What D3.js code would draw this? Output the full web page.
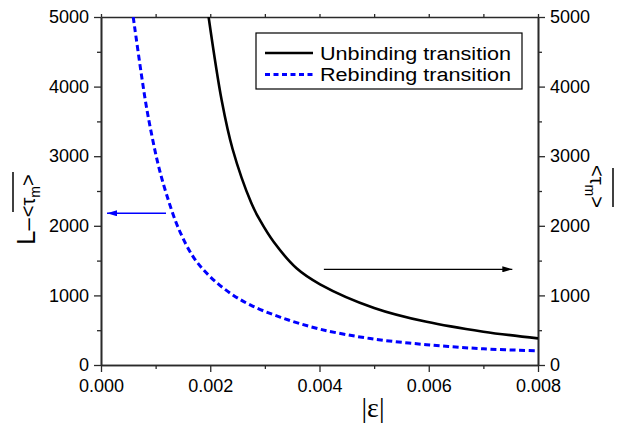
<!DOCTYPE html>
<html>
<head>
<meta charset="utf-8">
<script src="https://cdn.jsdelivr.net/npm/d3@7"></script>
<style>
  body { margin: 0; background: #fff; }
  svg { display: block; }
  text { font-family: "Liberation Sans", Arial, sans-serif; }
</style>
</head>
<body>
<svg id="chart" width="624" height="423"></svg>
<script>
// unbinding transition (solid black)
const epsUnbind = [0.00197, 0.00221, 0.00241, 0.00275, 0.00291, 0.00316, 0.00358, 0.00401, 0.005, 0.00596, 0.007, 0.008];
const tauUnbind = [5000, 3800, 3100, 2330, 2080, 1770, 1390, 1160, 820, 620, 479, 382];
// rebinding transition (dashed blue)
const epsRebind = [0.00059, 0.00081, 0.00093, 0.00105, 0.0012, 0.00142, 0.0017, 0.00201, 0.00237, 0.00274, 0.00329, 0.00401, 0.00493, 0.00596, 0.007, 0.008];
const tauRebind = [5000, 3810, 3300, 2870, 2450, 1960, 1540, 1260, 1030, 860, 685, 515, 380, 292, 233, 204];

const xTicks = [0, 0.002, 0.004, 0.006, 0.008];
const xMinor = [0.001, 0.003, 0.005, 0.007];
const yTicks = [0, 1000, 2000, 3000, 4000, 5000];
const yMinor = [500, 1500, 2500, 3500, 4500];
const legendLabels = ['Unbinding transition', 'Rebinding transition'];

const margin = { top: 17, right: 86, bottom: 58, left: 101 };
const W = 624, H = 423;
const w = W - margin.left - margin.right;
const h = H - margin.top - margin.bottom;
const axisColor = '#2a2a2a';

const svg = d3.select('#chart');
const g = svg.append('g').attr('transform', `translate(${margin.left},${margin.top})`);

const x = d3.scaleLinear().domain([0, 0.008]).range([0, w]);
const y = d3.scaleLinear().domain([0, 5000]).range([h, 0]);

function styleAxis(sel) {
  sel.select('.domain').attr('stroke', axisColor).attr('stroke-width', 1.6);
  sel.selectAll('.tick line').attr('stroke', axisColor).attr('stroke-width', 1.3);
  sel.selectAll('.tick text').attr('fill', '#000').style('font-size', '18px');
}

// bottom axis
g.append('g').attr('transform', `translate(0,${h})`)
  .call(d3.axisBottom(x).tickValues(xTicks).tickFormat(d3.format('.3f')).tickSize(7).tickPadding(7).tickSizeOuter(0))
  .call(styleAxis);
g.append('g').attr('transform', `translate(0,${h})`)
  .call(d3.axisBottom(x).tickValues(xMinor).tickFormat('').tickSize(4).tickSizeOuter(0))
  .call(styleAxis);
// top axis
g.append('g')
  .call(d3.axisTop(x).tickValues(xTicks.concat(xMinor)).tickFormat('').tickSize(3).tickSizeOuter(0))
  .call(styleAxis);

// left axis
g.append('g')
  .call(d3.axisLeft(y).tickValues(yTicks).tickFormat(d3.format('d')).tickSize(7).tickPadding(5).tickSizeOuter(0))
  .call(styleAxis);
g.append('g')
  .call(d3.axisLeft(y).tickValues(yMinor).tickFormat('').tickSize(4).tickSizeOuter(0))
  .call(styleAxis);
// right axis
g.append('g').attr('transform', `translate(${w},0)`)
  .call(d3.axisRight(y).tickValues(yTicks).tickFormat(d3.format('d')).tickSize(7).tickPadding(5).tickSizeOuter(0))
  .call(styleAxis);
g.append('g').attr('transform', `translate(${w},0)`)
  .call(d3.axisRight(y).tickValues(yMinor).tickFormat('').tickSize(4).tickSizeOuter(0))
  .call(styleAxis);

// curves
const line = d3.line().x(d => x(d[0])).y(d => y(d[1])).curve(d3.curveCatmullRom.alpha(0.5));
g.append('clipPath').attr('id', 'clip').append('rect').attr('width', w).attr('height', h);

g.append('path')
  .datum(d3.zip(epsRebind, tauRebind))
  .attr('clip-path', 'url(#clip)')
  .attr('fill', 'none')
  .attr('stroke', '#0000ff')
  .attr('stroke-width', 3)
  .attr('stroke-dasharray', '6,3.5')
  .attr('d', line);

g.append('path')
  .datum(d3.zip(epsUnbind, tauUnbind))
  .attr('clip-path', 'url(#clip)')
  .attr('fill', 'none')
  .attr('stroke', '#000')
  .attr('stroke-width', 2.6)
  .attr('d', line);

// arrows pointing to the axes
const defs = svg.append('defs');
[['arrBlue', '#0000ff'], ['arrBlack', '#000']].forEach(([id, c]) => {
  defs.append('marker').attr('id', id)
    .attr('viewBox', '0 0 10 6').attr('refX', 10).attr('refY', 3)
    .attr('markerWidth', 10).attr('markerHeight', 6).attr('markerUnits', 'userSpaceOnUse')
    .attr('orient', 'auto')
    .append('path').attr('d', 'M0,0L10,3L0,6Z').attr('fill', c);
});
g.append('line')
  .attr('x1', x(0.00119)).attr('x2', x(0.00011))
  .attr('y1', y(2180)).attr('y2', y(2180))
  .attr('stroke', '#0000ff').attr('stroke-width', 1.3)
  .attr('marker-end', 'url(#arrBlue)');
g.append('line')
  .attr('x1', x(0.00408)).attr('x2', x(0.00753))
  .attr('y1', y(1375)).attr('y2', y(1375))
  .attr('stroke', '#000').attr('stroke-width', 1.3)
  .attr('marker-end', 'url(#arrBlack)');

// legend
const lg = svg.append('g').attr('transform', 'translate(256,33)');
lg.append('rect').attr('width', 266).attr('height', 56)
  .attr('fill', '#fff').attr('stroke', '#000').attr('stroke-width', 1.2);
const rows = [{ c: '#000', dash: null, sw: 2.6 }, { c: '#0000ff', dash: '5,3.5', sw: 3 }];
rows.forEach((r, i) => {
  const yy = 20 + i * 21.5;
  lg.append('line').attr('x1', 9).attr('x2', 57).attr('y1', yy).attr('y2', yy)
    .attr('stroke', r.c).attr('stroke-width', r.sw).attr('stroke-dasharray', r.dash);
  lg.append('text').attr('x', 64).attr('y', yy + 6.5)
    .attr('textLength', 191).attr('lengthAdjust', 'spacingAndGlyphs')
    .style('font-size', '18px').text(legendLabels[i]);
});

// left axis title: L – <τm> with overline
const yl = svg.append('g').attr('transform', 'translate(35,245) rotate(-90)');
const ylt = yl.append('text').attr('x', 0).attr('y', 0);
ylt.append('tspan').style('font-size', '26px').text('L');
ylt.append('tspan').style('font-size', '22px').text('–');
ylt.append('tspan').style('font-size', '20px').attr('dx', 1).text('<τ');
ylt.append('tspan').style('font-size', '14px').attr('dy', 5).text('m');
ylt.append('tspan').style('font-size', '20px').attr('dy', -5).text('>');
yl.append('line').attr('x1', 33).attr('x2', 73).attr('y1', -22).attr('y2', -22)
  .attr('stroke', '#000').attr('stroke-width', 1.5);

// right axis title: <τm> with overline
const yr = svg.append('g').attr('transform', 'translate(590,165) rotate(90)');
const yrt = yr.append('text').attr('x', 0).attr('y', 0);
yrt.append('tspan').style('font-size', '20px').text('<τ');
yrt.append('tspan').style('font-size', '14px').attr('dy', 5).text('m');
yrt.append('tspan').style('font-size', '20px').attr('dy', -5).text('>');
yr.append('line').attr('x1', 3).attr('x2', 42).attr('y1', -23).attr('y2', -23)
  .attr('stroke', '#000').attr('stroke-width', 1.5);

// x axis title
svg.append('text')
  .attr('x', 373).attr('y', 417)
  .attr('text-anchor', 'middle')
  .style('font-family', '"Liberation Serif", "Times New Roman", serif')
  .style('font-size', '28px')
  .text('|ε|');
</script>
</body>
</html>
